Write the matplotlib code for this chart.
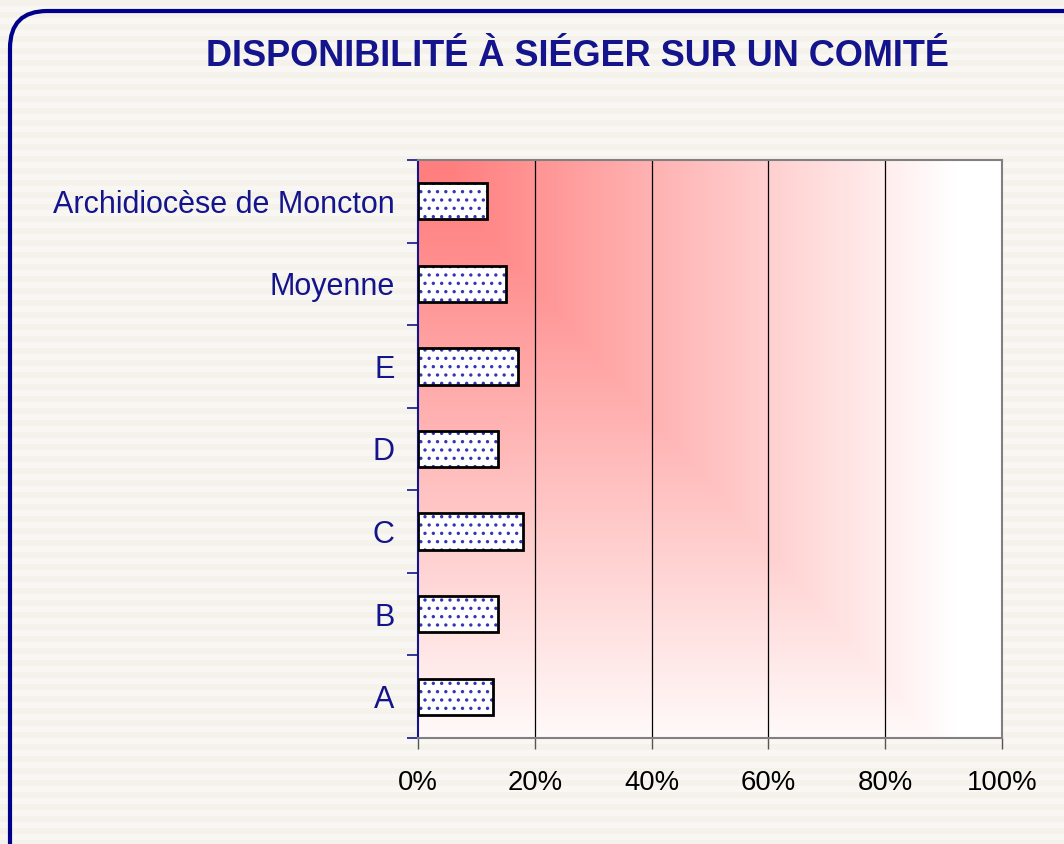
import numpy as np
import matplotlib
matplotlib.use("Agg")
import matplotlib.pyplot as plt
from matplotlib.patches import FancyBboxPatch

categories = ["A", "B", "C", "D", "E", "Moyenne", "Archidiocèse de Moncton"]
values = [0.128, 0.137, 0.180, 0.137, 0.171, 0.151, 0.118]
xticks = [0, 0.2, 0.4, 0.6, 0.8, 1.0]
xticklabels = ["0%", "20%", "40%", "60%", "80%", "100%"]
title = "DISPONIBILITÉ À SIÉGER SUR UN COMITÉ"

plt.rcParams['font.family'] = ['Liberation Sans', 'DejaVu Sans']
W, H = 1064, 844
fig = plt.figure(figsize=(W/100, H/100), dpi=100)

# striped background
bg = fig.add_axes([0, 0, 1, 1], zorder=-10)
rows = np.arange(H)
stripe = np.where((rows // 6) % 2 == 0, 0.0, 1.0)
c1 = np.array([0.957, 0.952, 0.925])
c2 = np.array([0.975, 0.972, 0.955])
img = c1[None, :] * (1 - stripe[:, None]) + c2[None, :] * stripe[:, None]
img = np.repeat(img[:, None, :], 4, axis=1)
bg.imshow(img, aspect='auto', extent=[0, 1, 0, 1], interpolation='nearest')
bg.set_xlim(0, 1); bg.set_ylim(0, 1)
bg.axis('off')

# rounded border
border = FancyBboxPatch((10/W, -0.2), 1.2, 1 - 11/H + 0.2,
                        boxstyle="round,pad=0,rounding_size=0.035",
                        transform=bg.transAxes, fill=False,
                        edgecolor='#00008B', linewidth=3, mutation_aspect=W/H)
bg.add_patch(border)

fig.text(577/W, 1 - 57/H, title, ha='center', va='center',
         fontsize=26, fontweight='bold', color='#14148C')

ax = fig.add_axes([418/W, 1 - 738/H, 584/W, 578/H])
n = len(categories)

# gradient background (from top-left corner)
N = 400
g = np.linspace(0, 1, N)
X, Y = np.meshgrid(g, g)  # Y=0 at top
tx = np.clip((X - 0.06) / 0.86, 0, 1)
ty = np.clip((Y - 0.06) / 0.98, 0, 1)
inten = 1 - np.maximum(tx, ty)
grad = np.zeros((N, N, 3))
grad[..., 0] = 1.0
grad[..., 1] = 1.0 - 0.5 * inten
grad[..., 2] = 1.0 - 0.5 * inten
ax.imshow(grad, aspect='auto', extent=[0, 1, -0.5, n - 0.5], origin='upper',
          zorder=0, interpolation='bilinear')
ax.set_xlim(0, 1)
ax.set_ylim(-0.5, n - 0.5)

for xv in xticks[1:-1]:
    ax.axvline(xv, color='black', linewidth=0.9, zorder=1)

y = np.arange(n)
plt.rcParams['hatch.linewidth'] = 1.2
ax.barh(y, values, height=0.44, color='white', edgecolor='#3535B5',
        hatch='..', linewidth=0, zorder=2)
ax.barh(y, values, height=0.44, fill=False, edgecolor='black',
        linewidth=2, zorder=3)

ax.set_yticks(y)
ax.set_yticklabels(categories, fontsize=22, color='#14148C')
ax.tick_params(axis='y', which='major', length=0, pad=17)
ax.set_yticks(np.arange(n + 1) - 0.5, minor=True)
ax.tick_params(axis='y', which='minor', length=8, color='#14148C', width=1.2,
               direction='out')

ax.set_xticks(xticks)
ax.set_xticklabels(xticklabels, fontsize=19.8, color='black')
ax.tick_params(axis='x', length=8, color='#555555', width=1, pad=15)

ax.spines['left'].set_color('#14148C')
ax.spines['left'].set_linewidth(1.5)
for s in ['top', 'right', 'bottom']:
    ax.spines[s].set_color('#808080')
    ax.spines[s].set_linewidth(1.5)

fig.savefig('out.png', dpi=100)
